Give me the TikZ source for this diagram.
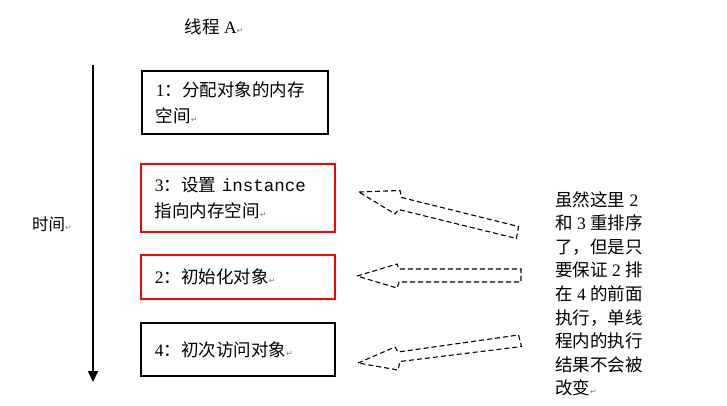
\documentclass[tikz,border=0pt]{standalone}
\usepackage{fontspec}
\setmainfont{Liberation Serif}
\newfontfamily\cjk{Noto Sans CJK SC}
\newfontfamily\monofont{Liberation Mono}
\newfontfamily\markfont{DejaVu Sans}
\usetikzlibrary{arrows.meta}
\newcommand{\pmark}{{\markfont\fontsize{8}{8}\selectfont\color{gray}↵}}

\begin{document}
\begin{tikzpicture}[x=1pt, y=-1pt,
    txt/.style={font=\fontsize{17.5}{25}\selectfont, inner sep=0pt},
    stepbox/.style={draw, line width=1.8pt, anchor=north west, align=left,
        inner xsep=14pt, inner ysep=0pt, font=\fontsize{17.5}{26}\selectfont},
    redbox/.style={stepbox, draw=red, line width=1.5pt},
    blockarrow/.style={draw, line width=1.1pt, dash pattern=on 5pt off 3pt}]
    \useasboundingbox (0,0) rectangle (727,405);

    % Title and time axis
    \node[txt] (title) at (214,27) {{\cjk 线程} A\pmark};
    \coordinate (tstart) at (93,65);
    \coordinate (tend) at (93,382);
    \draw[line width=1.6pt, -{Triangle[width=10pt,length=11pt]}] (tstart) -- (tend);
    \node[txt, font=\fontsize{16.5}{25}\selectfont] (time) at (52,224) {{\cjk 时间}\pmark};

    % Steps
    \node[stepbox, text width=158pt, minimum height=63pt] (s1) at (141,70)
        {1{\cjk ：分配对象的内存}\\{\cjk 空间}\pmark};
    \node[redbox, text width=166pt, minimum height=68pt] (s3) at (140,163)
        {3{\cjk ：设置} {\monofont instance}\\{\cjk 指向内存空间}\pmark};
    \node[redbox, text width=166pt, minimum height=44pt] (s2) at (140,254)
        {2{\cjk ：初始化对象}\pmark};
    \node[stepbox, text width=166pt, minimum height=53pt] (s4) at (140,322)
        {4{\cjk ：初次访问对象}\pmark};

    % Dashed block arrows
    \draw[blockarrow] (359,192) -- (400,190.5) -- (401.5,197.5) -- (518.5,226.5)
        -- (516.5,238.5) -- (398.5,209.5) -- (395,214) -- cycle;
    \draw[blockarrow] (357,276) -- (397,264) -- (399,269) -- (521,269)
        -- (521,282) -- (399,282) -- (397,288) -- cycle;
    \draw[blockarrow] (358,363) -- (395,347) -- (398,352) -- (518.5,335)
        -- (521.5,346.5) -- (400,361.5) -- (398,370) -- cycle;

    % Note
    \node[txt, anchor=north west, align=left,
        font=\fontsize{17.5}{23.6}\selectfont] (note) at (555,191)
        {{\cjk 虽然这里} 2\\{\cjk 和} 3 {\cjk 重排序}\\{\cjk 了，但是只}\\
         {\cjk 要保证} 2 {\cjk 排}\\{\cjk 在} 4 {\cjk 的前面}\\{\cjk 执行，单线}\\
         {\cjk 程内的执行}\\{\cjk 结果不会被}\\{\cjk 改变}\pmark};
\end{tikzpicture}
\end{document}
